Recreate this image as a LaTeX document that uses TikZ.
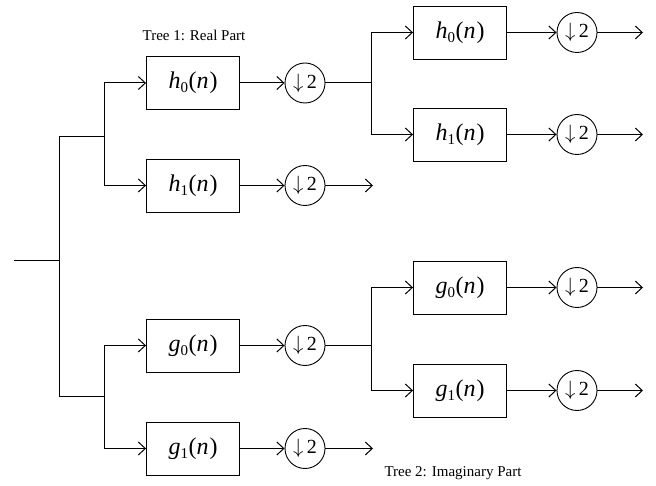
\documentclass[tikz,border=0pt]{standalone}
\usepackage{fontspec}
\setmainfont{Liberation Serif}
\usetikzlibrary{arrows.meta}
\newcommand\filt[2]{\textit{#1}\raisebox{-0.35ex}{\fontsize{15}{15}\selectfont #2}\kern0.5pt(\textit{n}\kern1pt)}
\tikzset{
  fbox/.style={draw, line width=0.9pt, minimum width=93pt, minimum height=53pt, inner sep=0pt, font=\fontsize{24}{26}\selectfont},
  dsamp/.style={draw, circle, line width=0.9pt, minimum size=40pt, inner sep=0pt, font=\fontsize{20}{21}\selectfont},
  wire/.style={line width=1pt},
  arr/.style={line width=1pt, -{Straight Barb[length=7pt,width=13pt,line width=1pt]}},
  captext/.style={font=\fontsize{15}{16}\selectfont}
}
\begin{document}
\begin{tikzpicture}[x=1pt,y=-1pt]
\useasboundingbox (0,0) rectangle (656,486);
% input and main split
\coordinate (in) at (14,261);
\coordinate (J0) at (59,261);
\coordinate (J0t) at (59,137);
\coordinate (J0b) at (59,396);
\coordinate (Ja) at (104,137);
\coordinate (Jat) at (104,83);
\coordinate (Jab) at (104,185.5);
\coordinate (Jg) at (104,396);
\coordinate (Jgt) at (104,345.5);
\coordinate (Jgb) at (104,448.5);
% tree 1
\node[fbox] (h0a) at (193,83) {\filt{h}{0}};
\node[fbox] (h1a) at (193,185.5) {\filt{h}{1}};
\node[dsamp] (ch0a) at (305,83) {$\downarrow$\,2};
\node[dsamp] (ch1a) at (305,185.5) {$\downarrow$\,2};
\coordinate (Kh) at (371,83);
\coordinate (Kht) at (371,32.5);
\coordinate (Khb) at (371,134.5);
\node[fbox] (h0b) at (460,32.5) {\filt{h}{0}};
\node[fbox] (h1b) at (460,134.5) {\filt{h}{1}};
\node[dsamp] (ch0b) at (577,32.5) {$\downarrow$\,2};
\node[dsamp] (ch1b) at (577,134.5) {$\downarrow$\,2};
\coordinate (oh0b) at (643,32.5);
\coordinate (oh1b) at (643,134.5);
\coordinate (oh1a) at (373,185.5);
% tree 2
\node[fbox] (g0a) at (193,345.5) {\filt{g}{0}};
\node[fbox] (g1a) at (193,448.5) {\filt{g}{1}};
\node[dsamp] (cg0a) at (305,345.5) {$\downarrow$\,2};
\node[dsamp] (cg1a) at (305,448.5) {$\downarrow$\,2};
\coordinate (Kg) at (371,345.5);
\coordinate (Kgt) at (371,287.5);
\coordinate (Kgb) at (371,390.5);
\node[fbox] (g0b) at (460,287.5) {\filt{g}{0}};
\node[fbox] (g1b) at (460,390.5) {\filt{g}{1}};
\node[dsamp] (cg0b) at (577,287.5) {$\downarrow$\,2};
\node[dsamp] (cg1b) at (577,390.5) {$\downarrow$\,2};
\coordinate (og0b) at (643,287.5);
\coordinate (og1b) at (643,390.5);
\coordinate (og1a) at (373,448.5);
% captions
\node[captext] (t1) at (194,35) {Tree 1: Real Part};
\node[captext] (t2) at (453,473) {Tree 2: Imaginary Part};
% wires
\draw[wire] (in) -- (J0);
\draw[wire] (J0t) -- (J0b);
\draw[wire] (J0t) -- (Ja);
\draw[wire] (Jat) -- (Jab);
\draw[wire] (J0b) -- (Jg);
\draw[wire] (Jgt) -- (Jgb);
\draw[arr] (Jat) -- (h0a);
\draw[arr] (Jab) -- (h1a);
\draw[arr] (Jgt) -- (g0a);
\draw[arr] (Jgb) -- (g1a);
\draw[arr] (h0a) -- (ch0a);
\draw[arr] (h1a) -- (ch1a);
\draw[arr] (g0a) -- (cg0a);
\draw[arr] (g1a) -- (cg1a);
\draw[wire] (ch0a) -- (Kh);
\draw[wire] (Kht) -- (Khb);
\draw[wire] (cg0a) -- (Kg);
\draw[wire] (Kgt) -- (Kgb);
\draw[arr] (Kht) -- (h0b);
\draw[arr] (Khb) -- (h1b);
\draw[arr] (Kgt) -- (g0b);
\draw[arr] (Kgb) -- (g1b);
\draw[arr] (h0b) -- (ch0b);
\draw[arr] (h1b) -- (ch1b);
\draw[arr] (g0b) -- (cg0b);
\draw[arr] (g1b) -- (cg1b);
\draw[arr] (ch0b) -- (oh0b);
\draw[arr] (ch1b) -- (oh1b);
\draw[arr] (cg0b) -- (og0b);
\draw[arr] (cg1b) -- (og1b);
\draw[arr] (ch1a) -- (oh1a);
\draw[arr] (cg1a) -- (og1a);
\end{tikzpicture}
\end{document}
